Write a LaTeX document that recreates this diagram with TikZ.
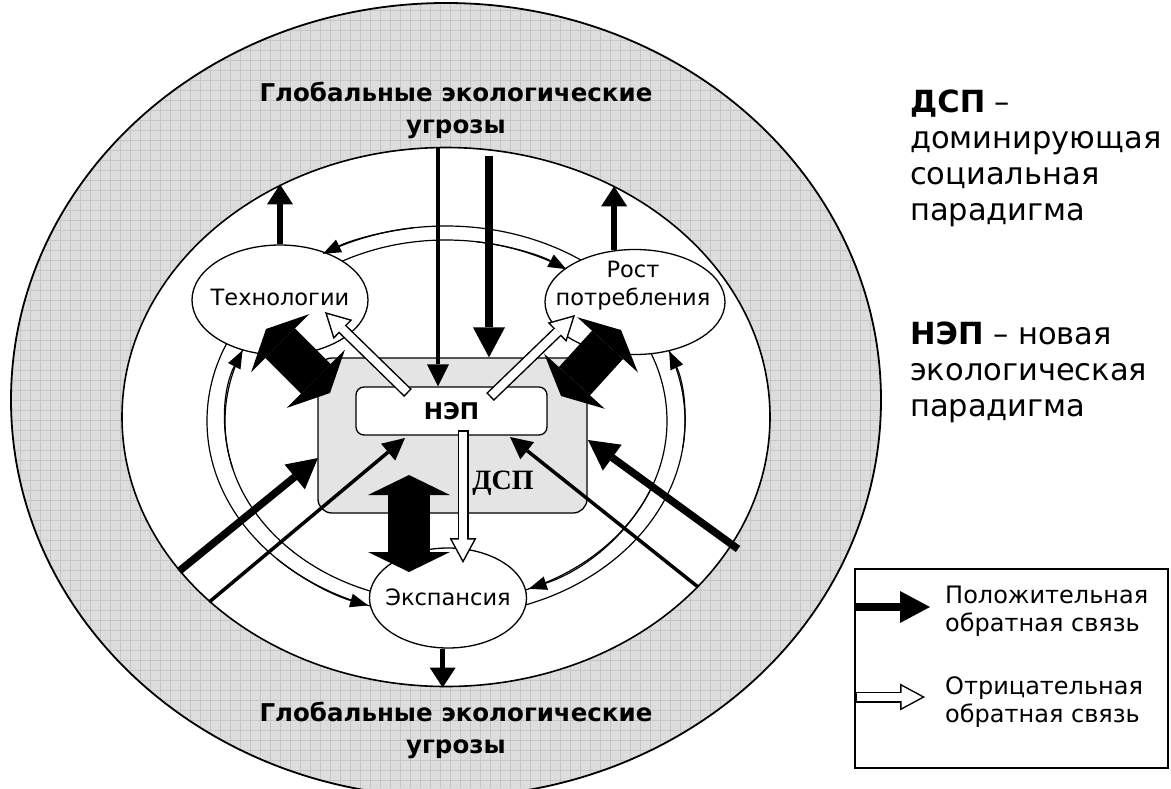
\documentclass[tikz,border=0pt]{standalone}
\usepackage{fontspec}
\setmainfont{DejaVu Sans}
\newfontfamily\serifbf{Liberation Serif}
\usetikzlibrary{shapes.geometric,arrows.meta}

\definecolor{ringgray}{RGB}{221,221,221}
\definecolor{gridgray}{RGB}{198,198,198}
\definecolor{boxgray}{RGB}{228,228,228}

\tikzset{
  blob/.style={ellipse,draw,line width=1.3pt,fill=white,inner sep=0pt},
  nodefont/.style={font=\fontsize{22.5}{28}\selectfont},
  thinarr/.style={line width=3.5pt,-{Triangle[width=22pt,length=22pt,line width=0pt]}},
  medarr/.style={line width=5.5pt,-{Triangle[width=26pt,length=20pt,line width=0pt]}},
  thickarr/.style={line width=7.5pt,-{Triangle[width=32pt,length=30pt,line width=0pt]}},
  fatarr/.style={line width=42pt,{Triangle[width=82pt,length=20pt,line width=0pt]}-{Triangle[width=82pt,length=20pt,line width=0pt]}},
  ringarr/.style={line width=1.2pt,-{Triangle[width=14pt,length=18pt,line width=0pt]}}
}

% white arrow with black outline
\newcommand{\hollowarrow}[2]{%
  \draw[line width=11pt,-{Triangle[width=27pt,length=25pt,line width=0pt]}] (#1) -- (#2);
  \draw[white,line width=8pt,shorten <=1.5pt,shorten >=3.15pt,
        -{Triangle[width=22pt,length=20.35pt,line width=0pt]}] (#1) -- (#2);}

\begin{document}
\begin{tikzpicture}[x=1pt,y=-1pt]
        \useasboundingbox (0,0) rectangle (1171,788);

        % outer ring of threats
        \fill[ringgray] (446,400) ellipse [x radius=435, y radius=397];
        \begin{scope}
            \clip (446,400) ellipse [x radius=435, y radius=397];
            \draw[gridgray,line width=0.6pt,step=10pt] (0,0) grid (1171,788);
        \end{scope}
        \node (outer) at (446,400) [ellipse,draw,line width=1.8pt,inner sep=0pt,minimum width=870pt,minimum height=794pt] {};
        \node (inner) at (446,417) [ellipse,draw,line width=1.6pt,fill=white,inner sep=0pt,minimum width=648pt,minimum height=539pt] {};

        % feedback ring
        \draw[line width=1.2pt] (446,421) ellipse [x radius=239, y radius=195];
        \draw[line width=1.2pt] (446,421) ellipse [x radius=221, y radius=181];

        % DSP box
        \node (DSPbox) at (452.5,435.5) [draw,line width=1.3pt,fill=boxgray,rounded corners=14pt,minimum width=269pt,minimum height=155pt] {};
        \node (DSPlabel) at (503,483) [font=\serifbf\bfseries\fontsize{28}{30}\selectfont] {ДСП};

        \coordinate (topthin)  at (438,148);
        \coordinate (topthick) at (489,156);
        \coordinate (lthick)   at (318,458);
        \coordinate (lthin)    at (405,438);
        \coordinate (rthin)    at (510,437);
        \coordinate (rthick)   at (738,549);
        \coordinate (rthickend) at (588,440);

        \draw[thickarr] (inner.210) -- (lthick);
        \draw[thinarr]  (inner.218) -- (lthin);
        \draw[thinarr]  (inner.326) -- (rthin);
        \draw[thickarr] (rthick) -- (rthickend);
        \draw[thickarr] (topthick) -- (topthick |- DSPbox.north);

        % three blobs
        \node (Tech) at (280,300) [blob,minimum width=176pt,minimum height=110pt] {};
        \node (Techtext) at (280,297) [nodefont] {Технологии};
        \node (Rost) at (635,302) [blob,minimum width=180pt,minimum height=105pt] {};
        \node (Rosttext) at (633,286) [nodefont,align=center] {Рост\\потребления};
        \node (Exp)  at (448,598) [blob,minimum width=157pt,minimum height=100pt] {};
        \node (Exptext) at (448,597) [nodefont] {Экспансия};

        % ring arrow heads
        \draw[ringarr] (446,421) ++(262:239 and 195) arc[start angle=262, end angle=239, x radius=239, y radius=195];
        \draw[ringarr] (446,421) ++(135:239 and 195) arc[start angle=135, end angle=109, x radius=239, y radius=195];
        \draw[ringarr] (446,421) ++(8:239 and 195)   arc[start angle=8,   end angle=-21, x radius=239, y radius=195];
        \draw[ringarr] (446,421) ++(278:221 and 181) arc[start angle=278, end angle=303, x radius=221, y radius=181];
        \draw[ringarr] (446,421) ++(20:221 and 181)  arc[start angle=20,  end angle=68,  x radius=221, y radius=181];
        \draw[ringarr] (446,421) ++(165:221 and 181) arc[start angle=165, end angle=203, x radius=221, y radius=181];

        \draw[medarr] (Tech.north) -- ++(0,-60);
        \draw[medarr] (Rost.112) -- ++(0,-64);
        \draw[medarr] (Exp.-96) -- ++(0,39);

        % NEP box
        \node (NEP) at (451.5,411) [draw,line width=1.3pt,fill=white,rounded corners=8pt,minimum width=191pt,minimum height=48pt,font=\bfseries\fontsize{23}{26}\selectfont] {НЭП};
        \draw[thinarr] (topthin) -- (topthin |- NEP.north);

        % fat double arrows
        \coordinate (TechA) at (266,329);
        \coordinate (TechB) at (330,393);
        \coordinate (RostA) at (621,330);
        \coordinate (RostB) at (561,396);
        \coordinate (ExpA)  at (409,475);
        \coordinate (ExpB)  at (409,572);
        \draw[fatarr] (TechA) -- (TechB);
        \draw[fatarr] (RostA) -- (RostB);
        \draw[fatarr] (ExpA) -- (ExpB);

        % negative feedback
        \coordinate (nepT) at (408,393);
        \coordinate (nepR) at (490,397);
        \coordinate (nepE) at (463,430);
        \coordinate (hTech) at (325,312);
        \coordinate (hRost) at (575,315);
        \coordinate (hExp)  at (463,563);
        \hollowarrow{nepT}{hTech}
        \hollowarrow{nepR}{hRost}
        \hollowarrow{nepE}{hExp}

        % titles
        \node (toptitle) at (456,110) [align=center,font=\bfseries\fontsize{24.5}{32}\selectfont] {Глобальные экологические\\угрозы};
        \node (bottitle) at (456,730) [align=center,font=\bfseries\fontsize{24.5}{32}\selectfont] {Глобальные экологические\\угрозы};

        % notes on the right
        \node (dspnote) at (910,90) [anchor=north west,inner sep=0pt,align=left,font=\fontsize{30.5}{36}\selectfont] {\textbf{ДСП} –\\доминирующая\\социальная\\парадигма};
        \node (nepnote) at (910,322) [anchor=north west,inner sep=0pt,align=left,font=\fontsize{30.5}{36}\selectfont] {\textbf{НЭП} – новая\\экологическая\\парадигма};

        % legend
        \node (legend) at (1011.5,668.5) [draw,line width=1.3pt,minimum width=313pt,minimum height=199pt] {};
        \coordinate (posA) at (855,607);
        \coordinate (posB) at (930,607);
        \coordinate (negA) at (855,697);
        \coordinate (negB) at (925,697);
        \draw[thickarr] (posA) -- (posB);
        \hollowarrow{negA}{negB}
        \node (postext) at (945,611) [anchor=west,inner sep=0pt,align=left,font=\fontsize{24}{28.5}\selectfont] {Положительная\\обратная связь};
        \node (negtext) at (945,702) [anchor=west,inner sep=0pt,align=left,font=\fontsize{24}{28.5}\selectfont] {Отрицательная\\обратная связь};
\end{tikzpicture}
\end{document}
